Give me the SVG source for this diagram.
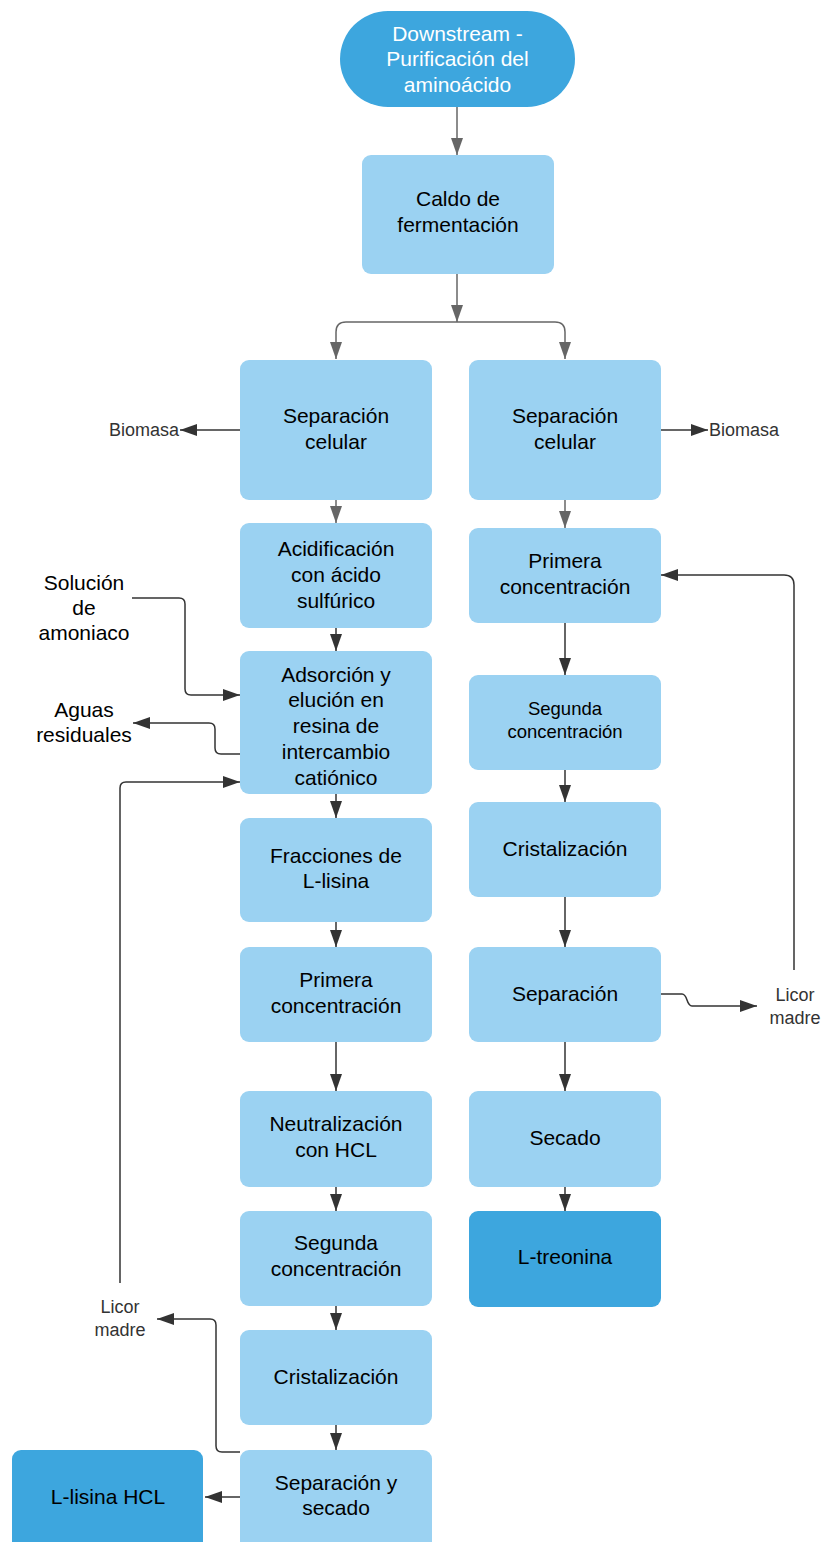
<svg xmlns="http://www.w3.org/2000/svg" width="823" height="1542" viewBox="0 0 823 1542">
<style>
.box{fill:#9BD2F2}
.dark{fill:#3DA6DE}
.t{font-family:"Liberation Sans",Arial,sans-serif;font-size:21px;fill:#000;text-anchor:middle;dominant-baseline:central}
.w{fill:#fff}
.s{font-size:18.5px}
.lbl{font-family:"Liberation Sans",Arial,sans-serif;font-size:18px;fill:#333;dominant-baseline:central}
.c{fill:none;stroke:#333;stroke-width:1.5}
.g{stroke:#666}
</style>
<defs>
<marker id="ad" viewBox="0 0 17 12" refX="17" refY="6" markerWidth="17" markerHeight="12" orient="auto" markerUnits="userSpaceOnUse"><path d="M0,0 L17,6 L0,12 Z" fill="#333"/></marker>
<marker id="ag" viewBox="0 0 17 12" refX="17" refY="6" markerWidth="17" markerHeight="12" orient="auto" markerUnits="userSpaceOnUse"><path d="M0,0 L17,6 L0,12 Z" fill="#666"/></marker>
</defs>
<rect width="823" height="1542" fill="#fff"/>

<g id="connectors">
<path class="c g" d="M457,107 V155" marker-end="url(#ag)"/>
<path class="c g" d="M457,274 V322" marker-end="url(#ag)"/>
<path class="c g" d="M457,322 H346 Q336,322 336,332 V359" marker-end="url(#ag)"/>
<path class="c g" d="M457,322 H555 Q565,322 565,332 V359" marker-end="url(#ag)"/>
<path class="c" d="M240,430 H180" marker-end="url(#ad)"/>
<path class="c" d="M661,430 H708" marker-end="url(#ad)"/>
<path class="c g" d="M336,500 V523" marker-end="url(#ag)"/>
<path class="c g" d="M565,500 V528" marker-end="url(#ag)"/>
<path class="c" d="M336,628 V651" marker-end="url(#ad)"/>
<path class="c" d="M132,598 H179 Q185,598 185,604 V689 Q185,695 191,695 H240" marker-end="url(#ad)"/>
<path class="c" d="M240,754 H221 Q215,754 215,748 V729 Q215,723 209,723 H133" marker-end="url(#ad)"/>
<path class="c" d="M120,1283 V788 Q120,782 126,782 H240" marker-end="url(#ad)"/>
<path class="c" d="M336,794 V818" marker-end="url(#ad)"/>
<path class="c" d="M336,922 V947" marker-end="url(#ad)"/>
<path class="c" d="M336,1042 V1091" marker-end="url(#ad)"/>
<path class="c" d="M336,1187 V1211" marker-end="url(#ad)"/>
<path class="c" d="M336,1306 V1330" marker-end="url(#ad)"/>
<path class="c" d="M336,1425 V1450" marker-end="url(#ad)"/>
<path class="c" d="M240,1452 H222 Q216,1452 216,1446 V1325 Q216,1319 210,1319 H157" marker-end="url(#ad)"/>
<path class="c" d="M240,1497 H205" marker-end="url(#ad)"/>
<path class="c" d="M565,623 V675" marker-end="url(#ad)"/>
<path class="c" d="M565,770 V802" marker-end="url(#ad)"/>
<path class="c" d="M565,897 V947" marker-end="url(#ad)"/>
<path class="c" d="M565,1042 V1091" marker-end="url(#ad)"/>
<path class="c" d="M565,1187 V1211" marker-end="url(#ad)"/>
<path class="c" d="M794,970 V585 Q794,575 784,575 H661" marker-end="url(#ad)"/>
<path class="c" d="M661,994 H682 C688,994 686,1006 692,1006 H757" marker-end="url(#ad)"/>
</g>

<g id="start"><rect class="dark" x="340" y="11" width="235" height="96" rx="48"/>
<text class="t w" x="457.5" y="33">Downstream -</text><text class="t w" x="457.5" y="58.5">Purificación del</text><text class="t w" x="457.5" y="84">aminoácido</text></g>

<g id="caldo"><rect class="box" x="362" y="155" width="192" height="119" rx="9"/>
<text class="t" x="458" y="198">Caldo de</text><text class="t" x="458" y="224">fermentación</text></g>

<g id="sepcelL"><rect class="box" x="240" y="360" width="192" height="140" rx="9"/>
<text class="t" x="336" y="415">Separación</text><text class="t" x="336" y="441">celular</text></g>

<g id="sepcelR"><rect class="box" x="469" y="360" width="192" height="140" rx="9"/>
<text class="t" x="565" y="415">Separación</text><text class="t" x="565" y="441">celular</text></g>

<g id="biomasaL"><text class="lbl" x="179" y="430" text-anchor="end">Biomasa</text></g>
<g id="biomasaR"><text class="lbl" x="709" y="430">Biomasa</text></g>

<g id="acid"><rect class="box" x="240" y="523" width="192" height="105" rx="9"/>
<text class="t" x="336" y="548">Acidificación</text><text class="t" x="336" y="574">con ácido</text><text class="t" x="336" y="600">sulfúrico</text></g>

<g id="solucion"><text class="t" x="84" y="582">Solución</text><text class="t" x="84" y="607">de</text><text class="t" x="84" y="632">amoniaco</text></g>

<g id="aguas"><text class="t" x="84" y="709">Aguas</text><text class="t" x="84" y="734">residuales</text></g>

<g id="adsorcion"><rect class="box" x="240" y="651" width="192" height="143" rx="9"/>
<text class="t" x="336" y="674">Adsorción y</text><text class="t" x="336" y="699.5">elución en</text><text class="t" x="336" y="725">resina de</text><text class="t" x="336" y="751">intercambio</text><text class="t" x="336" y="777">catiónico</text></g>

<g id="fracciones"><rect class="box" x="240" y="818" width="192" height="104" rx="9"/>
<text class="t" x="336" y="855">Fracciones de</text><text class="t" x="336" y="880">L-lisina</text></g>

<g id="primeraL"><rect class="box" x="240" y="947" width="192" height="95" rx="9"/>
<text class="t" x="336" y="979">Primera</text><text class="t" x="336" y="1005">concentración</text></g>

<g id="neutral"><rect class="box" x="240" y="1091" width="192" height="96" rx="9"/>
<text class="t" x="336" y="1123">Neutralización</text><text class="t" x="336" y="1149">con HCL</text></g>

<g id="segundaL"><rect class="box" x="240" y="1211" width="192" height="95" rx="9"/>
<text class="t" x="336" y="1242">Segunda</text><text class="t" x="336" y="1268">concentración</text></g>

<g id="cristL"><rect class="box" x="240" y="1330" width="192" height="95" rx="9"/>
<text class="t" x="336" y="1376">Cristalización</text></g>

<g id="sepsec"><rect class="box" x="240" y="1450" width="192" height="105" rx="9"/>
<text class="t" x="336" y="1482">Separación y</text><text class="t" x="336" y="1507">secado</text></g>

<g id="lisina"><rect class="dark" x="12" y="1450" width="191" height="105" rx="9"/>
<text class="t" x="108" y="1496">L-lisina HCL</text></g>

<g id="licorL"><text class="lbl" x="120" y="1307" text-anchor="middle">Licor</text><text class="lbl" x="120" y="1330" text-anchor="middle">madre</text></g>

<g id="primeraR"><rect class="box" x="469" y="528" width="192" height="95" rx="9"/>
<text class="t" x="565" y="560">Primera</text><text class="t" x="565" y="586">concentración</text></g>

<g id="segundaR"><rect class="box" x="469" y="675" width="192" height="95" rx="9"/>
<text class="t s" x="565" y="708">Segunda</text><text class="t s" x="565" y="731">concentración</text></g>

<g id="cristR"><rect class="box" x="469" y="802" width="192" height="95" rx="9"/>
<text class="t" x="565" y="848">Cristalización</text></g>

<g id="separacionR"><rect class="box" x="469" y="947" width="192" height="95" rx="9"/>
<text class="t" x="565" y="993">Separación</text></g>

<g id="licorR"><text class="lbl" x="795" y="995" text-anchor="middle">Licor</text><text class="lbl" x="795" y="1018" text-anchor="middle">madre</text></g>

<g id="secado"><rect class="box" x="469" y="1091" width="192" height="96" rx="9"/>
<text class="t" x="565" y="1137">Secado</text></g>

<g id="treonina"><rect class="dark" x="469" y="1211" width="192" height="96" rx="9"/>
<text class="t" x="565" y="1256">L-treonina</text></g>
</svg>
